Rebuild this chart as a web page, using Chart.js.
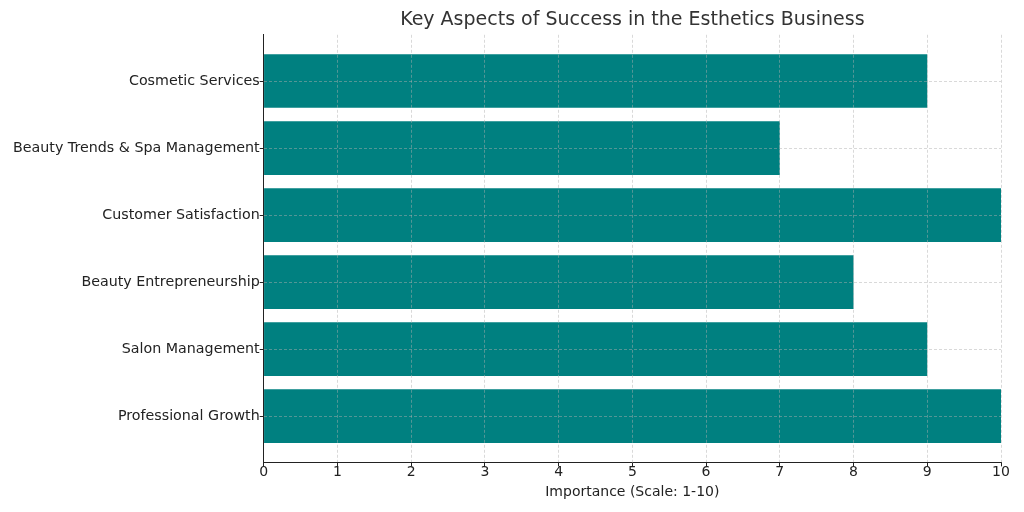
<!DOCTYPE html>
<html><head><meta charset="utf-8">
<script src="https://cdn.jsdelivr.net/npm/chart.js@4"></script>
<style>html,body{margin:0;padding:0;background:#fff}</style>
</head><body>
<canvas id="c" width="1024" height="512"></canvas>
<script>
const categories = [
  "Cosmetic Services",
  "Beauty Trends & Spa Management",
  "Customer Satisfaction",
  "Beauty Entrepreneurship",
  "Salon Management",
  "Professional Growth"
];
const importance = [9, 7, 10, 8, 9, 10];
const xTickValues = [0, 1, 2, 3, 4, 5, 6, 7, 8, 9, 10];
const chartTitle = "Key Aspects of Success in the Esthetics Business";
const xAxisTitle = "Importance (Scale: 1-10)";

const FONT = "'DejaVu Sans', sans-serif";
const gridColor = 'rgba(175,175,175,0.6)';

new Chart(document.getElementById('c'), {
  type: 'bar',
  data: {
    datasets: [{
      data: importance.map((v, i) => ({ x: v, y: i })),
      backgroundColor: '#008080',
      borderWidth: 0,
      categoryPercentage: 1,
      barPercentage: 0.8
    }]
  },
  options: {
    indexAxis: 'y',
    responsive: false,
    animation: false,
    devicePixelRatio: 1,
    layout: { padding: { left: 13, right: 23, top: 0, bottom: 11 } },
    plugins: {
      legend: { display: false },
      tooltip: { enabled: false },
      title: {
        display: true,
        text: chartTitle,
        fullSize: false,
        color: '#333',
        font: { family: FONT, size: 19, weight: 'normal' },
        padding: { top: 9, bottom: 3 }
      }
    },
    scales: {
      x: {
        type: 'linear',
        min: 0,
        max: 10,
        z: 1,
        offset: false,
        afterBuildTicks: s => { s.ticks = xTickValues.map(v => ({ value: v })); },
        ticks: { color: '#222', font: { family: FONT, size: 14 }, padding: -2, autoSkip: false, maxRotation: 0 },
        grid: {
          z: 1,
          color: gridColor, lineWidth: 0.8, offset: false,
          drawTicks: true, tickLength: 4, tickColor: '#222', tickWidth: 1, tickBorderDash: []
        },
        border: { display: true, color: '#222', width: 1, dash: [3, 2], z: 2 },
        title: { display: true, text: xAxisTitle, color: '#222', font: { family: FONT, size: 14 }, padding: { top: 5, bottom: 0 } }
      },
      y: {
        type: 'linear',
        min: -0.69,
        max: 5.69,
        reverse: true,
        z: 1,
        offset: false,
        afterBuildTicks: s => { s.ticks = categories.map((_, i) => ({ value: i })); },
        ticks: {
          color: '#222', font: { family: FONT, size: 14.25 }, padding: 0, autoSkip: false,
          callback: v => categories[v]
        },
        grid: {
          z: 1,
          color: gridColor, lineWidth: 0.8, offset: false,
          drawTicks: true, tickLength: 4, tickColor: '#222', tickWidth: 1, tickBorderDash: []
        },
        border: { display: true, color: '#222', width: 1, dash: [3, 2], z: 2 }
      }
    }
  }
});
</script>
</body></html>
